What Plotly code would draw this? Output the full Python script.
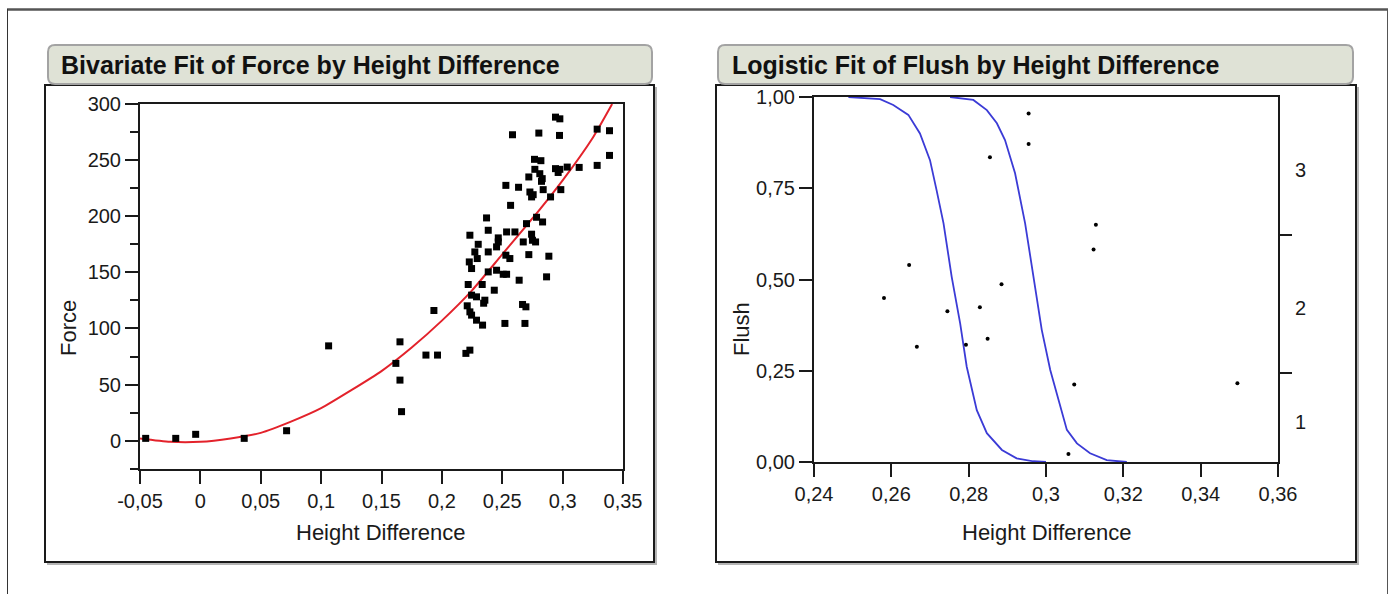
import plotly.graph_objects as go

# ---------------- data ----------------
# Left panel: Force vs Height Difference (scatter)
force_height_diff = [
    -0.0453, -0.0204, -0.0039, 0.0363, 0.0714, 0.1062,
    0.2941, 0.2977, 0.2585, 0.2803, 0.2974, 0.3286, 0.3388, 0.3388, 0.3286, 0.3137,
    0.3038, 0.2941, 0.2977, 0.2963, 0.2767, 0.2820, 0.2770, 0.2720, 0.2811, 0.2831,
    0.2825, 0.2530, 0.2635, 0.2729, 0.2756, 0.2743, 0.2839, 0.2985, 0.2900, 0.2569,
    0.2370, 0.2784, 0.2834, 0.2701, 0.2384, 0.2536, 0.2605, 0.2743, 0.2232, 0.2467,
    0.2467, 0.2301, 0.2674, 0.2750, 0.2776, 0.2453, 0.2273, 0.2384, 0.2293, 0.2530,
    0.2563, 0.2720, 0.2886, 0.2227, 0.2246, 0.2384, 0.2453, 0.2508, 0.2536, 0.2218,
    0.2334, 0.2640, 0.2867, 0.2246, 0.2287, 0.2434, 0.2356, 0.2346, 0.2210, 0.2232,
    0.2246, 0.2287, 0.2337, 0.2522, 0.2688, 0.2668, 0.2696, 0.1934, 0.2199, 0.2232,
    0.1868, 0.1964, 0.1653, 0.1619, 0.1653, 0.1666,
]
force_values = [
    2.1, 2.1, 5.7, 2.1, 8.9, 84.5,
    288.3, 286.8, 272.6, 274.1, 272.0, 277.6, 276.2, 254.2, 245.3, 243.5,
    243.8, 242.4, 241.8, 239.0, 250.7, 249.5, 241.8, 235.0, 237.9, 233.5,
    231.1, 227.5, 225.8, 221.6, 219.2, 217.2, 223.7, 223.7, 217.2, 209.7,
    198.5, 199.1, 194.9, 193.4, 187.5, 186.0, 186.0, 184.0, 183.1, 180.7,
    177.1, 175.0, 177.1, 178.6, 177.1, 172.7, 168.2, 168.2, 162.3, 165.3,
    162.3, 165.8, 164.4, 159.3, 153.4, 150.4, 151.9, 148.3, 148.3, 139.2,
    139.2, 143.0, 146.0, 129.7, 128.2, 134.1, 125.2, 122.5, 120.2, 114.8,
    111.9, 107.4, 103.0, 104.5, 104.5, 121.4, 119.3, 116.0, 77.8, 80.7,
    76.3, 76.3, 88.1, 68.9, 54.0, 25.9,
]

# Left panel: quadratic fit curve
fit_x = [-0.05, -0.025, 0.0, 0.025, 0.05, 0.075, 0.1, 0.125, 0.15, 0.175,
         0.2, 0.225, 0.25, 0.275, 0.3, 0.325, 0.341]
fit_y = [2, -1, -1, 2, 7, 17, 29, 45, 62, 83,
         107, 134, 166, 198, 232, 270, 300]

# Right panel: Flush vs Height Difference (points)
flush_height_diff = [0.2581, 0.2646, 0.2666, 0.2745, 0.2793, 0.2829, 0.2849, 0.2855,
                     0.2885, 0.2955, 0.2955, 0.3129, 0.3123, 0.3073, 0.3058, 0.3495]
flush_values = [0.449, 0.540, 0.316, 0.413, 0.321, 0.424, 0.338, 0.835,
                0.487, 0.955, 0.871, 0.650, 0.582, 0.212, 0.022, 0.216]

# Right panel: logistic curves
curve1_x = [0.2489, 0.2571, 0.2605, 0.2644, 0.2674, 0.2700, 0.2717, 0.2735, 0.2756,
            0.2778, 0.2795, 0.2821, 0.2847, 0.2886, 0.2924, 0.2967, 0.3000]
curve1_y = [1.000, 0.994, 0.978, 0.951, 0.900, 0.827, 0.745, 0.654, 0.508,
            0.380, 0.261, 0.142, 0.079, 0.033, 0.010, 0.002, 0.000]
curve2_x = [0.2752, 0.2812, 0.2847, 0.2873, 0.2894, 0.2920, 0.2946, 0.2967, 0.2989,
            0.3011, 0.3032, 0.3054, 0.3080, 0.3114, 0.3157, 0.3209]
curve2_y = [1.000, 0.992, 0.964, 0.928, 0.882, 0.791, 0.654, 0.508, 0.362,
            0.252, 0.170, 0.088, 0.051, 0.024, 0.005, 0.000]

# Right-side ordinal axis: cumulative cut points and level labels
flush_level_cuts = [0.244, 0.622]
flush_level_labels = ["1", "2", "3"]

# Tick labels
left_x_ticks = [-0.05, 0.0, 0.05, 0.1, 0.15, 0.2, 0.25, 0.3, 0.35]
left_x_labels = ["-0,05", "0", "0,05", "0,1", "0,15", "0,2", "0,25", "0,3", "0,35"]
left_y_ticks = [0, 50, 100, 150, 200, 250, 300]
left_y_labels = ["0", "50", "100", "150", "200", "250", "300"]
left_y_minor = [-25, 25, 75, 125, 175, 225, 275]
right_x_ticks = [0.24, 0.26, 0.28, 0.30, 0.32, 0.34, 0.36]
right_x_labels = ["0,24", "0,26", "0,28", "0,3", "0,32", "0,34", "0,36"]
right_y_ticks = [0.0, 0.25, 0.5, 0.75, 1.0]
right_y_labels = ["0,00", "0,25", "0,50", "0,75", "1,00"]

title_left = "Bivariate Fit of Force by Height Difference"
title_right = "Logistic Fit of Flush by Height Difference"

# ---------------- layout helpers ----------------
W, H = 1390, 594
FONT = "Arial, 'Liberation Sans', Helvetica, sans-serif"


def fx(p):
    return p / W


def fy(p):
    return 1 - p / H


def rect(x0, y0, x1, y1, **kw):
    return dict(type="rect", xref="paper", yref="paper",
                x0=fx(x0), x1=fx(x1), y0=fy(y1), y1=fy(y0), layer="below", **kw)


def rrect_path(x0, y0, x1, y1, r):
    def P(x, y):
        return f"{fx(x):.6f},{fy(y):.6f}"
    pts = [
        f"M{P(x0 + r, y0)}", f"L{P(x1 - r, y0)}", f"Q{P(x1, y0)} {P(x1, y0 + r)}",
        f"L{P(x1, y1 - r)}", f"Q{P(x1, y1)} {P(x1 - r, y1)}", f"L{P(x0 + r, y1)}",
        f"Q{P(x0, y1)} {P(x0, y1 - r)}", f"L{P(x0, y0 + r)}", f"Q{P(x0, y0)} {P(x0 + r, y0)}Z",
    ]
    return " ".join(pts)


fig = go.Figure()

# Left panel traces
fig.add_trace(go.Scatter(x=fit_x, y=fit_y, mode="lines", xaxis="x", yaxis="y",
                         line=dict(color="#e3222b", width=2, shape="spline", smoothing=0.6),
                         showlegend=False, hoverinfo="skip"))
fig.add_trace(go.Scatter(x=force_height_diff, y=force_values, mode="markers",
                         xaxis="x", yaxis="y",
                         marker=dict(symbol="square", size=7, color="black"),
                         showlegend=False))

# Right panel traces
fig.add_trace(go.Scatter(x=curve1_x, y=curve1_y, mode="lines", xaxis="x2", yaxis="y2",
                         line=dict(color="#3b3bd6", width=1.8), showlegend=False))
fig.add_trace(go.Scatter(x=curve2_x, y=curve2_y, mode="lines", xaxis="x2", yaxis="y2",
                         line=dict(color="#3b3bd6", width=1.8), showlegend=False))
fig.add_trace(go.Scatter(x=flush_height_diff, y=flush_values, mode="markers",
                         xaxis="x2", yaxis="y2",
                         marker=dict(symbol="circle", size=4, color="black"),
                         showlegend=False))
# invisible traces to attach the right-hand ordinal axes
fig.add_trace(go.Scatter(x=[None], y=[None], xaxis="x2", yaxis="y3", showlegend=False))
fig.add_trace(go.Scatter(x=[None], y=[None], xaxis="x2", yaxis="y4", showlegend=False))

axis_common = dict(showgrid=False, zeroline=False, showline=True, linecolor="#1a1a1a",
                   linewidth=2, ticks="outside", ticklen=13, tickwidth=1.5,
                   tickcolor="#1a1a1a", tickfont=dict(family=FONT, size=20, color="#1a1a1a"),
                   mirror=True, tickmode="array", automargin=False)

shapes = [
    # outer frame
    dict(type="line", xref="paper", yref="paper", x0=fx(7), x1=fx(1388), y0=fy(9.5), y1=fy(9.5),
         line=dict(color="#555555", width=2.5), layer="below"),
    dict(type="line", xref="paper", yref="paper", x0=fx(7.5), x1=fx(7.5), y0=fy(9), y1=fy(594),
         line=dict(color="#333333", width=1), layer="below"),
    dict(type="line", xref="paper", yref="paper", x0=fx(1387.5), x1=fx(1387.5), y0=fy(9), y1=fy(594),
         line=dict(color="#555555", width=1), layer="below"),
    # panel shadows
    rect(47, 87, 657, 565, fillcolor="#b5b5b5", line=dict(width=0)),
    rect(718, 87, 1359, 565, fillcolor="#b5b5b5", line=dict(width=0)),
    # panel frames
    rect(45, 85, 654, 562, fillcolor="white", line=dict(color="#1a1a1a", width=2)),
    rect(716, 85, 1356, 562, fillcolor="white", line=dict(color="#1a1a1a", width=2)),
    # title boxes
    dict(type="path", xref="paper", yref="paper", path=rrect_path(48, 45, 652, 84, 7),
         fillcolor="#dfe2d6", line=dict(color="#a3a3a3", width=2), layer="below"),
    dict(type="path", xref="paper", yref="paper", path=rrect_path(718, 45, 1353, 84, 7),
         fillcolor="#dfe2d6", line=dict(color="#a3a3a3", width=2), layer="below"),
]

annotations = [
    dict(text=title_left, x=fx(59), y=fy(65), xref="paper", yref="paper",
         xanchor="left", yanchor="middle", showarrow=False,
         font=dict(family=FONT, size=25, color="#111111", weight="bold")),
    dict(text=title_right, x=fx(730), y=fy(65), xref="paper", yref="paper",
         xanchor="left", yanchor="middle", showarrow=False,
         font=dict(family=FONT, size=25, color="#111111", weight="bold")),
    dict(text="Force", x=fx(68), y=fy(328), xref="paper", yref="paper", textangle=-90,
         xanchor="center", yanchor="middle", showarrow=False,
         font=dict(family=FONT, size=22, color="#1a1a1a")),
    dict(text="Height Difference", x=fx(381), y=fy(532), xref="paper", yref="paper",
         xanchor="center", yanchor="middle", showarrow=False,
         font=dict(family=FONT, size=22, color="#1a1a1a")),
    dict(text="Flush", x=fx(741), y=fy(329), xref="paper", yref="paper", textangle=-90,
         xanchor="center", yanchor="middle", showarrow=False,
         font=dict(family=FONT, size=22, color="#1a1a1a")),
    dict(text="Height Difference", x=fx(1047), y=fy(532), xref="paper", yref="paper",
         xanchor="center", yanchor="middle", showarrow=False,
         font=dict(family=FONT, size=22, color="#1a1a1a")),
]

level_mid = []
bounds = [0.0] + flush_level_cuts + [1.0]
for i in range(len(flush_level_labels)):
    level_mid.append((bounds[i] + bounds[i + 1]) / 2 - 0.012)

fig.update_layout(
    template="none",
    width=W, height=H, autosize=False,
    margin=dict(l=0, r=0, t=0, b=0, pad=0, autoexpand=False),
    paper_bgcolor="white", plot_bgcolor="rgba(0,0,0,0)",
    font=dict(family=FONT, color="#1a1a1a"),
    showlegend=False,
    xaxis=dict(domain=[fx(140), fx(623)], range=[-0.05, 0.35], anchor="y",
               tickvals=left_x_ticks, ticktext=left_x_labels, **axis_common),
    yaxis=dict(domain=[fy(469), fy(104)], range=[-25.2, 300], anchor="x",
               tickvals=left_y_ticks, ticktext=left_y_labels,
               minor=dict(tickvals=left_y_minor, ticks="outside", ticklen=8,
                          tickwidth=1.5, tickcolor="#1a1a1a"),
               **axis_common),
    xaxis2=dict(domain=[fx(814), fx(1278)], range=[0.24, 0.36], anchor="y2",
                tickvals=right_x_ticks, ticktext=right_x_labels, **axis_common),
    yaxis2=dict(domain=[fy(462), fy(97)], range=[0, 1], anchor="x2",
                tickvals=right_y_ticks, ticktext=right_y_labels, **axis_common),
    yaxis3=dict(overlaying="y2", anchor="x2", side="right", range=[0, 1],
                showgrid=False, zeroline=False, showline=False, automargin=False,
                tickmode="array", tickvals=flush_level_cuts,
                ticktext=["" for _ in flush_level_cuts],
                ticks="outside", ticklen=13, tickwidth=1.5, tickcolor="#1a1a1a"),
    yaxis4=dict(overlaying="y2", anchor="x2", side="right", range=[0, 1],
                showgrid=False, zeroline=False, showline=False, automargin=False,
                tickmode="array", tickvals=level_mid, ticktext=flush_level_labels,
                ticks="", ticklabelstandoff=16,
                tickfont=dict(family=FONT, size=20, color="#1a1a1a")),
    shapes=shapes,
    annotations=annotations,
)

fig.write_html("out.html", config={"displayModeBar": False},
               post_script="document.body.style.margin='0';document.body.style.overflow='hidden';")
